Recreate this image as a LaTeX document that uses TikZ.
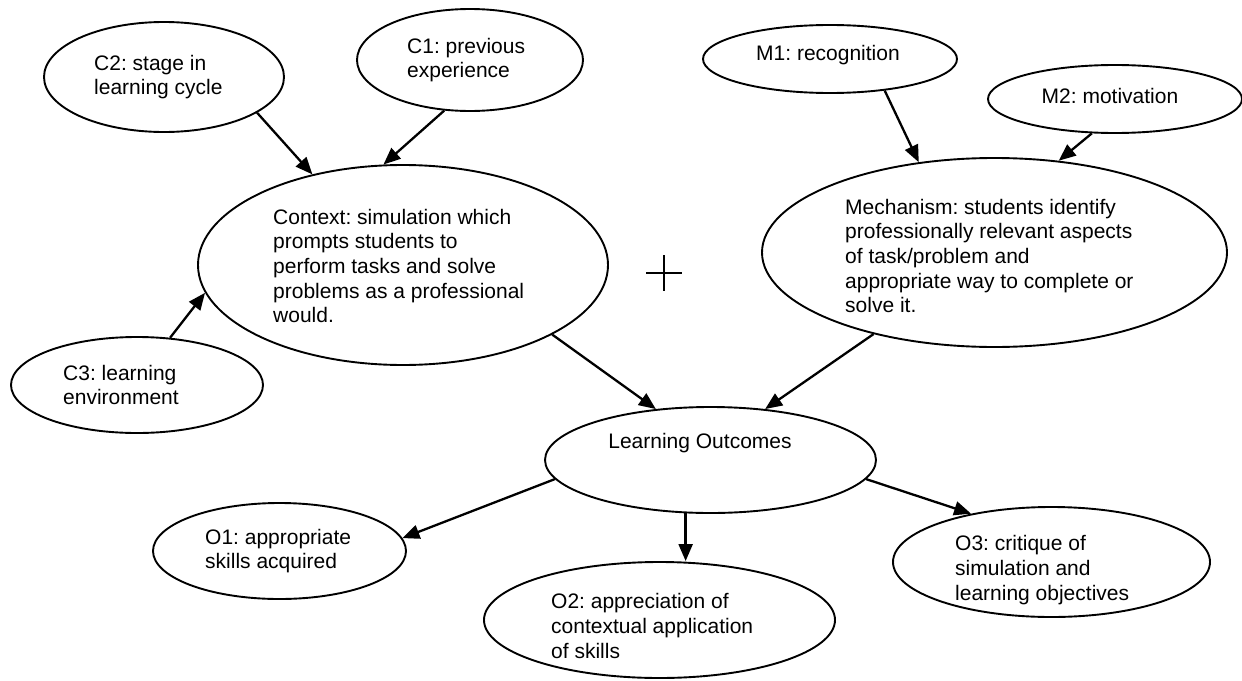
\documentclass[tikz,border=0pt]{standalone}
\usepackage{fontspec}
\setmainfont{Liberation Sans}
\usetikzlibrary{shapes.geometric,arrows.meta}
\frenchspacing
\begin{document}
\begin{tikzpicture}[x=1pt,y=-1pt,
  ell/.style={ellipse,draw,line width=1.9pt,inner sep=0pt},
  txt/.style={inner sep=0pt,align=left,anchor=west,font=\fontsize{21}{24.6}\selectfont},
  arr/.style={line width=2.3pt,-{Triangle[length=17pt,width=14pt]}}]
\useasboundingbox (0,0) rectangle (1242,680);
% ellipses
\node[ell,minimum width=240pt,minimum height=110pt] (c2) at (164,77) {};
\node[ell,minimum width=226pt,minimum height=102pt] (c1) at (470,60) {};
\node[ell,minimum width=254pt,minimum height=68pt] (m1) at (830,59) {};
\node[ell,minimum width=254pt,minimum height=68pt] (m2) at (1115,99) {};
\node[ell,minimum width=410pt,minimum height=200pt] (ctx) at (403,265) {};
\node[ell,minimum width=465pt,minimum height=189pt] (mech) at (994.5,252.5) {};
\node[ell,minimum width=252pt,minimum height=96pt] (c3) at (137,385) {};
\node[ell,minimum width=331pt,minimum height=106pt] (lo) at (710.5,460) {};
\node[ell,minimum width=253pt,minimum height=96pt] (o1) at (279.5,551) {};
\node[ell,minimum width=351pt,minimum height=116pt] (o2) at (659.5,620) {};
\node[ell,minimum width=317pt,minimum height=110pt] (o3) at (1051.5,562) {};
% texts
\node[txt] (c2t) at (94,77) {C2: stage in\\learning cycle};
\node[txt] (c1t) at (407,60) {C1: previous\\experience};
\node[txt] (m1t) at (756,55) {M1: recognition};
\node[txt,anchor=center] (m2t) at (1110,96) {M2: motivation};
\node[txt] (ctxt) at (273,266) {Context: simulation which\\prompts students to\\perform tasks and solve\\problems as a professional\\would.};
\node[txt] (mecht) at (845,256) {Mechanism: students identify\\professionally relevant aspects\\of task/problem and\\appropriate way to complete or\\solve it.};
\node[txt] (c3t) at (63,385) {C3: learning\\environment};
\node[txt,anchor=center] (lot) at (700,443) {Learning Outcomes};
\node[txt] (o1t) at (205,551) {O1: appropriate\\skills acquired};
\node[txt] (o2t) at (551,626) {O2: appreciation of\\contextual application\\of skills};
\node[txt] (o3t) at (955,570) {O3: critique of\\simulation and\\learning objectives};
% plus sign
\draw[line width=1.6pt] (646,273) -- (682,273) (664,255) -- (664,291);
% connectors
\draw[arr] (c2.-21) -- (ctx.135.6);
\draw[arr] (c1.-117.5) -- (ctx.101.1);
\draw[arr] (m1.-30.3) -- (mech.130.9);
\draw[arr] (m2.-124.8) -- (mech.55.8);
\draw[arr] (c3.55.5) -- (ctx.188.2);
\draw[arr] (ctx.-25) -- (lo.137.3);
\draw[arr] (mech.-146) -- (lo.43.6);
\draw[arr] (lo.-173.9) -- (o1.6.2);
\draw[arr] (lo.-115.2) -- (lo.-115.2 |- o2.north);
\draw[arr] (lo.-7.9) -- (o3.149.4);
\end{tikzpicture}
\end{document}
